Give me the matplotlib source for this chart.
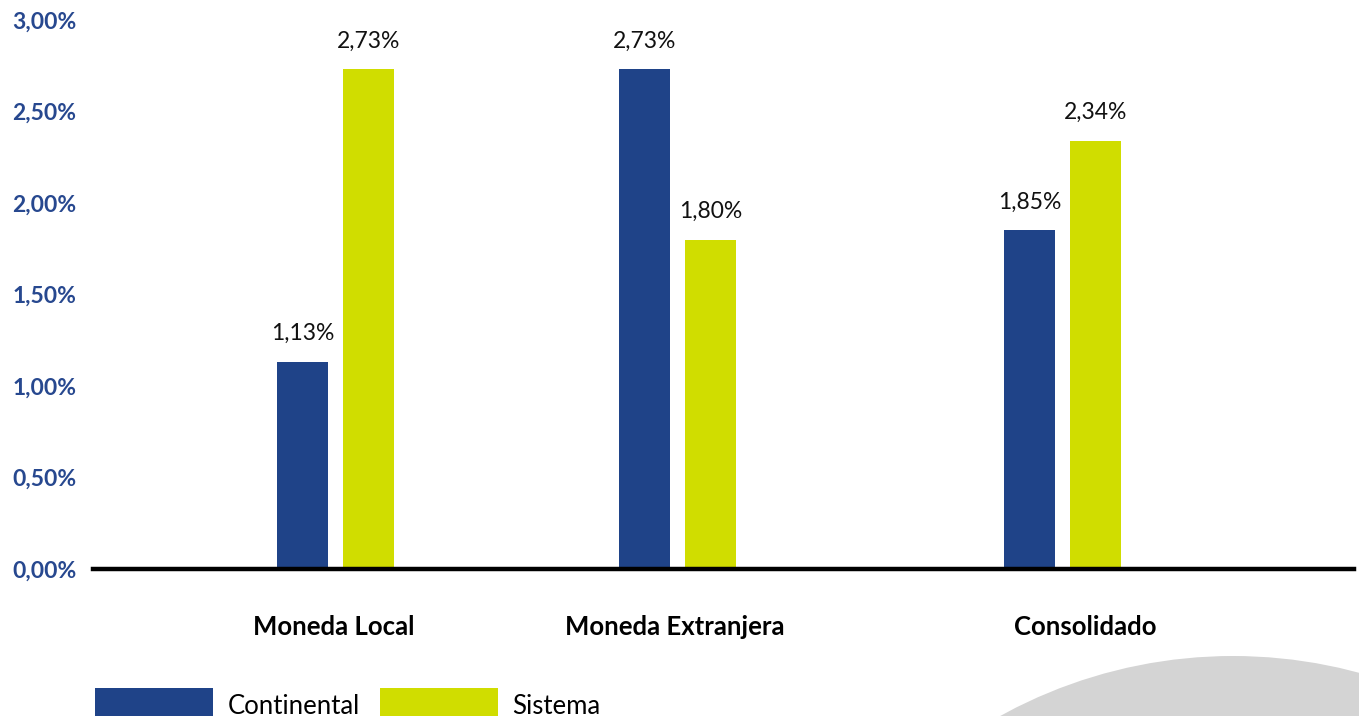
import matplotlib
matplotlib.use("Agg")
import matplotlib.pyplot as plt
from matplotlib.patches import Ellipse

# datos
categorias = ["Moneda Local", "Moneda Extranjera", "Consolidado"]
continental = [1.13, 2.73, 1.85]
sistema = [2.73, 1.80, 2.34]
series = ["Continental", "Sistema"]
ticks_y = [0.0, 0.5, 1.0, 1.5, 2.0, 2.5, 3.0]

# posiciones de los grupos (el tercero va algo más separado)
pos_x = [0.0, 1.0, 2.124]
ancho = 0.149
desp = 0.0964

AZUL = "#1F4388"
AMARILLO = "#D0DD00"
AZUL_TXT = "#27488F"

plt.rcParams["font.family"] = ["Lato", "DejaVu Sans"]

fig = plt.figure(figsize=(13.59, 7.16), dpi=100)
ax = fig.add_axes([93 / 1359, 1 - 569 / 716, (1354 - 93) / 1359, (569 - 20) / 716])

# circulo gris decorativo abajo a la derecha
r = 482
circ = Ellipse((1233 / 1359, -422 / 716), 2 * r / 1359, 2 * r / 716,
               transform=fig.transFigure, facecolor="#D4D4D4", edgecolor="none", zorder=-5)
fig.patches.append(circ)

xs_c = [p - desp for p in pos_x]
xs_s = [p + desp for p in pos_x]
b1 = ax.bar(xs_c, continental, width=ancho, color=AZUL, label=series[0], zorder=2)
b2 = ax.bar(xs_s, sistema, width=ancho, color=AMARILLO, label=series[1], zorder=2)

def fmt(v):
    return f"{v:.2f}%".replace(".", ",")

for barras, vals in ((b1, continental), (b2, sistema)):
    for b, v in zip(barras, vals):
        ax.annotate(fmt(v), (b.get_x() + b.get_width() / 2, v), xytext=(0, 13),
                    textcoords="offset points", ha="center", va="bottom",
                    fontsize=16.5, color="#111111")

ax.set_xlim(-0.708, 2.974)
ax.set_ylim(0, 3.0)
ax.set_yticks(ticks_y)
ax.set_yticklabels([fmt(t) for t in ticks_y], color=AZUL_TXT, fontsize=16.5, fontweight="bold")
ax.tick_params(axis="y", length=0, pad=12)
ax.set_xticks([])

for s in ["top", "right", "left"]:
    ax.spines[s].set_visible(False)
ax.spines["bottom"].set_linewidth(3.2)
ax.spines["bottom"].set_color("black")

# nombres de las categorias
etiquetas_x = [334 / 1359, 675 / 1359, 1085 / 1359]
for xf, cat in zip(etiquetas_x, categorias):
    fig.text(xf, 1 - 627 / 716, cat, ha="center", va="center",
             fontsize=18.5, fontweight="bold", color="black")

fig.legend(handles=[b1, b2], labels=series, loc="upper left",
           bbox_to_anchor=(95 / 1359, 1 - 688 / 716), ncol=2, frameon=False,
           fontsize=18.5, handlelength=4.6, handleheight=1.7, handletextpad=0.55,
           columnspacing=0.8, borderpad=0, borderaxespad=0)

fig.savefig("out.png", dpi=100)
